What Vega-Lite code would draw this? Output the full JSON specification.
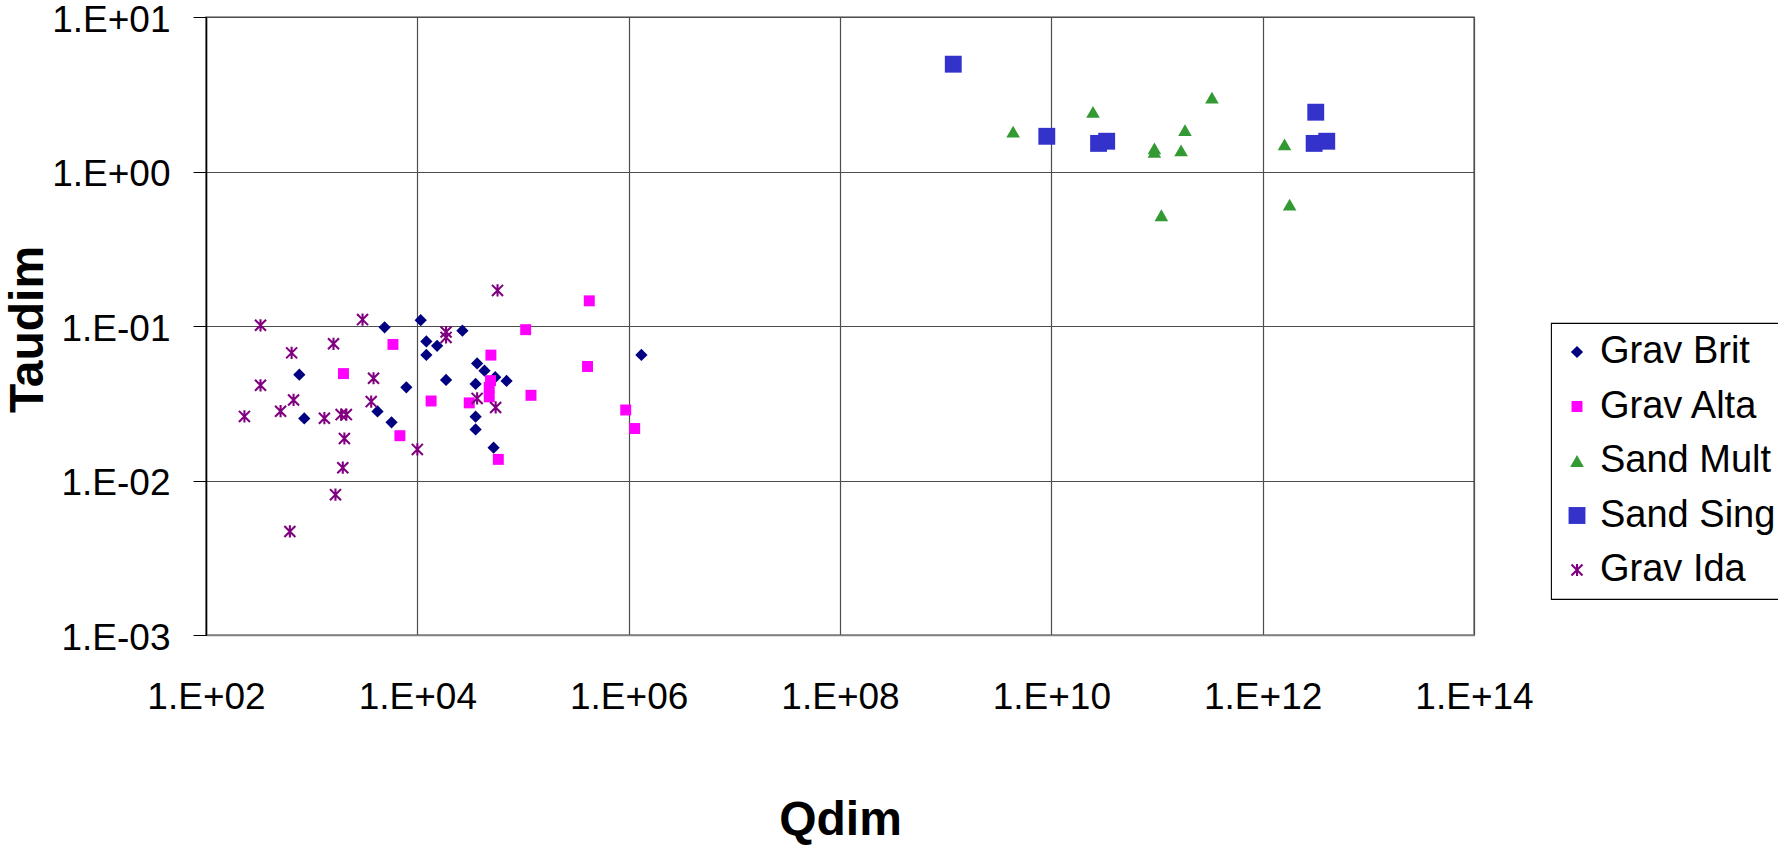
{
  "$schema": "https://vega.github.io/schema/vega-lite/v6.json",
  "width": 1268,
  "height": 618,
  "autosize": {"type": "none"},
  "padding": {"left": 206, "top": 17, "right": 304, "bottom": 210},
  "background": "white",
  "config": {
    "font": "Liberation Sans",
    "view": {"stroke": "#808080", "strokeWidth": 1.5},
    "axis": {"gridColor": "#4d4d4d", "gridWidth": 1.2, "gridOpacity": 1, "labelColor": "#000", "titleColor": "#000", "labelFont": "Liberation Sans", "titleFont": "Liberation Sans"},
    "legend": {"labelFont": "Liberation Sans", "strokeColor": "#000", "strokeWidth": 1.1, "fillColor": "#fff"}
  },
  "data": {"values": [
    {"s": "Grav Brit", "q": 4900, "t": 0.098},
    {"s": "Grav Brit", "q": 10760, "t": 0.109},
    {"s": "Grav Brit", "q": 12170, "t": 0.0795},
    {"s": "Grav Brit", "q": 15380, "t": 0.0744},
    {"s": "Grav Brit", "q": 12170, "t": 0.065},
    {"s": "Grav Brit", "q": 26700, "t": 0.0933},
    {"s": "Grav Brit", "q": 764, "t": 0.0484},
    {"s": "Grav Brit", "q": 851, "t": 0.0252},
    {"s": "Grav Brit", "q": 7870, "t": 0.0401},
    {"s": "Grav Brit", "q": 4200, "t": 0.028},
    {"s": "Grav Brit", "q": 5700, "t": 0.0238},
    {"s": "Grav Brit", "q": 18700, "t": 0.0448},
    {"s": "Grav Brit", "q": 36800, "t": 0.0572},
    {"s": "Grav Brit", "q": 43200, "t": 0.0514},
    {"s": "Grav Brit", "q": 54600, "t": 0.0466},
    {"s": "Grav Brit", "q": 69900, "t": 0.0441},
    {"s": "Grav Brit", "q": 35600, "t": 0.0422},
    {"s": "Grav Brit", "q": 35600, "t": 0.0259},
    {"s": "Grav Brit", "q": 35600, "t": 0.0214},
    {"s": "Grav Brit", "q": 52700, "t": 0.0163},
    {"s": "Grav Brit", "q": 1320000, "t": 0.065},
    {"s": "Grav Alta", "q": 424000, "t": 0.1455},
    {"s": "Grav Alta", "q": 106000, "t": 0.0947},
    {"s": "Grav Alta", "q": 5880, "t": 0.076},
    {"s": "Grav Alta", "q": 49700, "t": 0.0648},
    {"s": "Grav Alta", "q": 408000, "t": 0.0547},
    {"s": "Grav Alta", "q": 2000, "t": 0.0492},
    {"s": "Grav Alta", "q": 49300, "t": 0.0443},
    {"s": "Grav Alta", "q": 47900, "t": 0.04},
    {"s": "Grav Alta", "q": 47900, "t": 0.0348},
    {"s": "Grav Alta", "q": 119000, "t": 0.0356},
    {"s": "Grav Alta", "q": 13500, "t": 0.0327},
    {"s": "Grav Alta", "q": 31000, "t": 0.0318},
    {"s": "Grav Alta", "q": 6840, "t": 0.0195},
    {"s": "Grav Alta", "q": 58400, "t": 0.0137},
    {"s": "Grav Alta", "q": 938000, "t": 0.0286},
    {"s": "Grav Alta", "q": 1140000, "t": 0.0217},
    {"s": "Sand Mult", "q": 4350000000, "t": 1.81},
    {"s": "Sand Mult", "q": 24800000000, "t": 2.43},
    {"s": "Sand Mult", "q": 331000000000, "t": 3.01},
    {"s": "Sand Mult", "q": 184000000000, "t": 1.85},
    {"s": "Sand Mult", "q": 94500000000, "t": 1.41},
    {"s": "Sand Mult", "q": 94500000000, "t": 1.34},
    {"s": "Sand Mult", "q": 169000000000, "t": 1.37},
    {"s": "Sand Mult", "q": 1610000000000, "t": 1.5},
    {"s": "Sand Mult", "q": 110000000000, "t": 0.521},
    {"s": "Sand Mult", "q": 1800000000000, "t": 0.611},
    {"s": "Sand Sing", "q": 1180000000, "t": 4.95},
    {"s": "Sand Sing", "q": 9060000000, "t": 1.69},
    {"s": "Sand Sing", "q": 28000000000, "t": 1.52},
    {"s": "Sand Sing", "q": 33400000000, "t": 1.57},
    {"s": "Sand Sing", "q": 3180000000000, "t": 2.42},
    {"s": "Sand Sing", "q": 3070000000000, "t": 1.52},
    {"s": "Sand Sing", "q": 4040000000000, "t": 1.57},
    {"s": "Grav Ida", "q": 57400, "t": 0.17},
    {"s": "Grav Ida", "q": 328, "t": 0.101},
    {"s": "Grav Ida", "q": 3030, "t": 0.11},
    {"s": "Grav Ida", "q": 18700, "t": 0.0914},
    {"s": "Grav Ida", "q": 18700, "t": 0.0844},
    {"s": "Grav Ida", "q": 1610, "t": 0.0767},
    {"s": "Grav Ida", "q": 646, "t": 0.067},
    {"s": "Grav Ida", "q": 3850, "t": 0.0459},
    {"s": "Grav Ida", "q": 328, "t": 0.0413},
    {"s": "Grav Ida", "q": 674, "t": 0.0332},
    {"s": "Grav Ida", "q": 3660, "t": 0.0324},
    {"s": "Grav Ida", "q": 36800, "t": 0.034},
    {"s": "Grav Ida", "q": 55100, "t": 0.0297},
    {"s": "Grav Ida", "q": 508, "t": 0.0281},
    {"s": "Grav Ida", "q": 231, "t": 0.026},
    {"s": "Grav Ida", "q": 1320, "t": 0.0253},
    {"s": "Grav Ida", "q": 1900, "t": 0.0267},
    {"s": "Grav Ida", "q": 2130, "t": 0.0267},
    {"s": "Grav Ida", "q": 2040, "t": 0.0187},
    {"s": "Grav Ida", "q": 1970, "t": 0.0121},
    {"s": "Grav Ida", "q": 1680, "t": 0.0081},
    {"s": "Grav Ida", "q": 10000, "t": 0.0159},
    {"s": "Grav Ida", "q": 622, "t": 0.00468}
  ]},
  "mark": {"type": "point", "filled": true, "opacity": 1, "strokeWidth": 0},
  "encoding": {
    "x": {
      "field": "q", "type": "quantitative",
      "scale": {"type": "log", "domain": [100, 100000000000000], "nice": false},
      "axis": {
        "values": [100, 10000, 1000000, 100000000, 10000000000, 1000000000000, 100000000000000],
        "labelExpr": "'1.E' + (round(log(datum.value)/LN10) < 0 ? '-' : '+') + (abs(round(log(datum.value)/LN10)) < 10 ? '0' : '') + abs(round(log(datum.value)/LN10))",
        "labelFontSize": 37, "labelPadding": 44, "ticks": false,
        "domainColor": "#808080", "domainWidth": 1.5,
        "title": "Qdim", "titleFontSize": 48, "titleFontWeight": "bold", "titleY": 161,
        "labelFlush": false, "labelOverlap": false
      }
    },
    "y": {
      "field": "t", "type": "quantitative",
      "scale": {"type": "log", "domain": [0.001, 10], "nice": false},
      "axis": {
        "values": [0.001, 0.01, 0.1, 1, 10],
        "labelExpr": "'1.E' + (round(log(datum.value)/LN10) < 0 ? '-' : '+') + (abs(round(log(datum.value)/LN10)) < 10 ? '0' : '') + abs(round(log(datum.value)/LN10))",
        "labelFontSize": 37, "labelPadding": 23, "labelOffset": 3, "tickSize": 13, "tickColor": "#000", "tickWidth": 1,
        "domainColor": "#000", "domainWidth": 1.5,
        "title": "Taudim", "titleFontSize": 48, "titleFontWeight": "bold", "titleX": -154, "titleY": 312,
        "labelFlush": false, "labelOverlap": false
      }
    },
    "color": {
      "field": "s", "type": "nominal",
      "scale": {"domain": ["Grav Brit", "Grav Alta", "Sand Mult", "Sand Sing", "Grav Ida"], "range": ["#000080", "#FF00FF", "#339933", "#3333CC", "#800080"]},
      "legend": {
        "title": null, "orient": "none", "legendX": 1345, "legendY": 306,
        "labelFontSize": 38, "labelColor": "#000",
        "padding": 10, "rowPadding": 16.5, "symbolOffset": -3, "labelOffset": 4, "labelLimit": 400
      }
    },
    "shape": {
      "field": "s", "type": "nominal",
      "scale": {"domain": ["Grav Brit", "Grav Alta", "Sand Mult", "Sand Sing", "Grav Ida"], "range": ["diamond", "square", "triangle-up", "square", "M-0.17,-1L0.17,-1L0.17,1L-0.17,1Z M-0.78,-1.02L1.02,0.78L0.78,1.02L-1.02,-0.78Z M-1.02,0.78L0.78,-1.02L1.02,-0.78L-0.78,1.02Z"]},
      "legend": {
        "title": null, "orient": "none", "legendX": 1345, "legendY": 306,
        "labelFontSize": 38, "labelColor": "#000",
        "padding": 10, "rowPadding": 16.5, "symbolOffset": -3, "labelOffset": 4, "labelLimit": 400
      }
    },
    "size": {
      "field": "s", "type": "nominal",
      "scale": {"type": "ordinal", "domain": ["Grav Brit", "Grav Alta", "Sand Mult", "Sand Sing", "Grav Ida"], "range": [150, 120, 185, 285, 150]},
      "legend": {
        "title": null, "orient": "none", "legendX": 1345, "legendY": 306,
        "labelFontSize": 38, "labelColor": "#000",
        "padding": 10, "rowPadding": 16.5, "symbolOffset": -3, "labelOffset": 4, "labelLimit": 400
      }
    }
  }
}
